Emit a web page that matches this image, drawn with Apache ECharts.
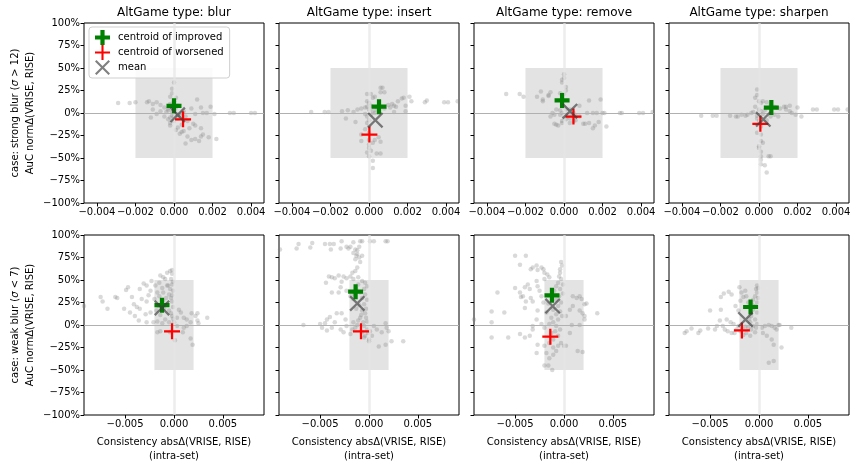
<!DOCTYPE html>
<html>
<head>
<meta charset="utf-8">
<script src="https://cdn.jsdelivr.net/npm/echarts@6/dist/echarts.min.js"></script>
<style>
  html, body { margin: 0; padding: 0; background: #fff; }
  #chart { width: 857px; height: 468px; }
</style>
</head>
<body>
<div id="chart"></div>
<script>
var altTypes = ["blur", "insert", "remove", "sharpen"];
var rowNames = ["case: strong blur ({i|σ} > 12)\nAuC normΔ(VRISE, RISE)",
                "case: weak blur ({i|σ} < 7)\nAuC normΔ(VRISE, RISE)"];
var xName = "Consistency absΔ(VRISE, RISE)\n(intra-set)";
var topTicks = [-0.004, -0.002, 0, 0.002, 0.004];
var bottomTicks = [-0.005, 0, 0.005];
var xLimits = [0.00467, 0.0092];

// scatter clouds, [x, y%]
var strongBlur = [[-0.0029,11],[-0.0023,11],[-0.0020,12],[-0.0014,12],[-0.0013,13],[-0.0011,10],[-0.0009,12],[-0.0007,9],[-0.0012,-5],[-0.0011,4],[-0.0005,6],[-0.0003,3],[-0.0007,2],[-0.0009,-1],[0.0000,34],[-0.0001,27],[-0.0001,22],[-0.0002,18],[0.0001,17],[0.0000,13],[-0.0002,10],[0.0002,8],[-0.0003,5],[-0.0004,1],[-0.0005,-4],[-0.0003,-7],[-0.0002,-11],[-0.0002,-14],[0.0000,-9],[0.0002,-6],[0.0004,0],[0.0005,2],[0.0003,-3],[0.0001,-1],[-0.0001,-3],[0.0006,-4],[0.0009,5],[0.0012,15],[0.0014,6],[0.0019,7],[0.0017,0],[0.0015,0],[0.0011,-1],[0.0021,-1],[0.0029,0],[0.0031,0],[0.0040,0],[0.0042,0],[0.0047,0],[0.0003,-23],[0.0004,-21],[0.0005,-20],[0.0007,-26],[0.0006,-34],[0.0009,-30],[0.0011,-29],[0.0014,-26],[0.0015,-24],[0.0018,-27],[0.0022,-29],[0.0013,-31],[0.0010,-12],[0.0011,-14],[0.0014,-17],[0.0008,-17],[0.0007,-9],[0.0004,-13],[-0.0002,-5],[0.0001,-19],[0.0002,-16],[0.0000,3],[0.0001,6],[-0.0001,1],[0.0002,-2],[0.0000,-4]];
var strongInsert = [[-0.0030,1],[-0.0023,1],[-0.0021,1],[-0.0014,2],[-0.0011,3],[-0.0008,1],[-0.0012,-6],[-0.0007,-10],[-0.0006,4],[-0.0004,5],[-0.0002,6],[-0.0001,21],[0.0001,21],[0.0002,17],[0.0003,18],[0.0006,28],[0.0007,28],[0.0008,23],[0.0006,23],[-0.0001,13],[0.0000,11],[0.0001,8],[-0.0001,7],[0.0000,4],[0.0002,2],[-0.0001,-4],[0.0000,-8],[-0.0001,-11],[0.0000,-15],[-0.0002,-18],[0.0000,-22],[-0.0004,-24],[-0.0004,-31],[0.0000,-30],[0.0002,-33],[0.0003,-30],[0.0005,-27],[0.0006,-32],[0.0000,-39],[0.0001,-42],[0.0004,-45],[0.0006,-45],[0.0000,-48],[0.0002,-53],[0.0002,-61],[-0.0001,-44],[0.0000,-35],[0.0010,9],[0.0012,10],[0.0013,8],[0.0014,7],[0.0015,13],[0.0017,16],[0.0018,17],[0.0019,8],[0.0021,18],[0.0022,13],[0.0019,2],[0.0013,1],[0.0029,12],[0.0030,14],[0.0039,12],[0.0041,12],[0.0046,13],[0.0011,6],[0.0008,5],[0.0006,7],[0.0004,4],[0.0003,0],[0.0001,-2],[-0.0002,-1]];
var strongRemove = [[-0.0030,21],[-0.0023,21],[-0.0021,18],[-0.0014,18],[-0.0012,24],[-0.0011,15],[-0.0011,13],[-0.0008,19],[-0.0008,20],[-0.0007,23],[-0.0004,4],[-0.0005,-2],[-0.0006,0],[-0.0007,-4],[0.0000,43],[0.0000,39],[-0.0001,37],[-0.0001,34],[0.0001,29],[0.0001,25],[0.0000,21],[-0.0002,22],[-0.0001,9],[0.0000,7],[0.0001,4],[-0.0001,0],[-0.0002,-2],[0.0000,-5],[0.0001,-7],[-0.0001,-11],[-0.0004,-13],[-0.0005,-12],[-0.0003,-14],[-0.0001,-9],[0.0001,-2],[0.0003,-6],[0.0003,4],[0.0005,0],[0.0006,-3],[0.0008,-4],[0.0010,-12],[0.0011,-12],[0.0013,-11],[0.0015,-17],[0.0016,-14],[0.0018,-10],[0.0022,-15],[0.0012,0],[0.0015,0],[0.0017,0],[0.0020,0],[0.0021,0],[0.0029,0],[0.0030,0],[0.0039,0],[0.0041,0],[0.0046,1],[0.0013,14],[0.0019,15],[0.0008,8],[0.0006,-8],[0.0003,-11],[0.0005,-9],[0.0002,-4],[0.0004,-1],[-0.0002,3]];
var strongSharpen = [[-0.0030,-3],[-0.0024,-3],[-0.0022,-3],[-0.0015,-3],[-0.0012,-4],[-0.0011,-4],[-0.0009,-2],[-0.0007,-3],[-0.0006,-2],[-0.0004,0],[-0.0003,1],[-0.0001,26],[-0.0001,20],[-0.0002,17],[0.0000,13],[0.0001,11],[-0.0002,7],[0.0000,4],[0.0001,2],[-0.0001,-6],[0.0000,-9],[0.0001,-15],[-0.0001,-22],[0.0001,-24],[0.0001,-31],[0.0000,-37],[0.0000,-39],[0.0001,-43],[0.0001,-48],[0.0001,-52],[0.0001,-57],[0.0003,-58],[0.0004,-66],[0.0005,-48],[0.0006,-48],[0.0002,-33],[0.0002,13],[0.0004,12],[0.0006,9],[0.0008,7],[0.0009,6],[0.0011,5],[0.0013,7],[0.0014,7],[0.0016,8],[0.0014,4],[0.0016,2],[0.0017,0],[0.0019,-2],[0.0020,6],[0.0022,-4],[0.0010,-4],[0.0008,-2],[0.0006,-4],[0.0004,-8],[0.0028,4],[0.0030,4],[0.0039,4],[0.0041,4],[0.0046,4],[0.0002,-1],[-0.0001,-3],[0.0003,3]];
var weakBlur = [[-0.0092,21],[-0.0075,31],[-0.0073,26],[-0.0068,18],[-0.0060,31],[-0.0058,30],[-0.0049,39],[-0.0051,18],[-0.0047,42],[-0.0043,31],[-0.0041,23],[-0.0038,20],[-0.0045,14],[-0.0040,10],[-0.0035,40],[-0.0033,29],[-0.0031,46],[-0.0028,44],[-0.0035,18],[-0.0029,12],[-0.0036,5],[-0.0028,26],[-0.0024,38],[-0.0023,49],[-0.0019,44],[-0.0017,36],[-0.0028,3],[-0.0021,3],[-0.0024,14],[-0.0014,55],[-0.0011,53],[-0.0009,51],[-0.0007,58],[-0.0004,60],[-0.0002,61],[-0.0002,57],[-0.0003,51],[-0.0002,45],[-0.0004,40],[-0.0005,34],[-0.0003,30],[-0.0002,26],[-0.0007,23],[-0.0005,16],[-0.0002,10],[-0.0009,6],[-0.0014,11],[-0.0016,21],[-0.0011,27],[-0.0011,36],[-0.0015,32],[-0.0007,44],[-0.0017,4],[-0.0012,2],[-0.0005,3],[0.0000,3],[0.0003,-1],[-0.0001,48],[-0.0001,38],[-0.0002,33],[-0.0001,20],[-0.0003,13],[-0.0001,7],[-0.0006,44],[-0.0008,30],[-0.0010,18],[-0.0012,41],[-0.0020,29],[-0.0018,16],[-0.0026,33],[-0.0015,47],[-0.0017,-8],[-0.0014,-7],[-0.0004,-8],[0.0001,-17],[0.0009,-8],[0.0013,6],[0.0017,3],[0.0022,10],[0.0024,13],[0.0024,5],[0.0018,13],[0.0013,-1],[0.0010,8],[0.0007,14],[0.0003,8],[0.0005,17],[0.0017,-15],[0.0019,-22],[0.0034,8],[0.0010,-3],[0.0025,2]];
var weakInsert = [[-0.0091,84],[-0.0072,90],[-0.0074,85],[-0.0060,86],[-0.0058,91],[-0.0045,90],[-0.0040,90],[-0.0036,90],[-0.0028,93],[-0.0039,84],[-0.0029,85],[-0.0023,87],[-0.0019,87],[-0.0016,92],[-0.0014,84],[-0.0012,83],[-0.0009,93],[-0.0007,93],[0.0001,93],[0.0005,93],[0.0017,93],[0.0019,93],[-0.0012,79],[-0.0010,75],[-0.0014,73],[-0.0009,70],[-0.0012,64],[-0.0014,60],[-0.0017,58],[-0.0021,85],[-0.0016,80],[-0.0013,77],[-0.0007,77],[-0.0010,87],[-0.0041,54],[-0.0038,53],[-0.0035,52],[-0.0031,55],[-0.0026,54],[-0.0023,52],[-0.0019,54],[-0.0016,51],[-0.0011,53],[-0.0007,49],[-0.0004,47],[-0.0002,43],[-0.0005,40],[-0.0009,36],[-0.0004,34],[-0.0007,30],[-0.0002,28],[-0.0005,23],[-0.0003,18],[-0.0007,16],[-0.0004,13],[-0.0009,8],[-0.0002,4],[-0.0006,3],[-0.0005,-1],[-0.0002,-5],[-0.0007,-8],[-0.0004,-12],[0.0000,-16],[-0.0005,-14],[-0.0044,47],[-0.0038,36],[-0.0029,42],[-0.0028,48],[-0.0031,36],[-0.0023,38],[-0.0019,32],[-0.0016,29],[-0.0033,13],[-0.0028,13],[-0.0040,9],[-0.0043,6],[-0.0045,2],[-0.0050,1],[-0.0067,0],[-0.0048,-3],[-0.0043,-6],[-0.0038,-3],[-0.0035,3],[-0.0029,-5],[-0.0024,6],[-0.0023,-1],[-0.0017,-5],[-0.0026,-8],[-0.0019,-10],[-0.0016,3],[-0.0012,0],[0.0001,-7],[0.0003,-12],[0.0000,-18],[0.0010,-24],[0.0017,-22],[0.0017,2],[0.0018,-3],[0.0020,-7],[0.0023,-18],[0.0035,-18],[0.0008,-5],[0.0013,-8],[0.0005,-1],[-0.0011,45],[-0.0013,40],[-0.0015,34],[-0.0010,22],[-0.0013,18],[-0.0008,11],[-0.0011,5],[-0.0014,-3],[-0.0003,8],[-0.0001,-9]];
var weakRemove = [[-0.0092,6],[-0.0074,3],[-0.0074,-14],[-0.0074,15],[-0.0068,36],[-0.0061,14],[-0.0057,-14],[-0.0050,77],[-0.0045,67],[-0.0039,77],[-0.0034,62],[-0.0032,64],[-0.0028,66],[-0.0027,61],[-0.0023,64],[-0.0021,62],[-0.0020,58],[-0.0050,41],[-0.0045,36],[-0.0044,31],[-0.0042,32],[-0.0040,42],[-0.0037,45],[-0.0035,40],[-0.0034,30],[-0.0032,26],[-0.0039,26],[-0.0040,19],[-0.0028,49],[-0.0027,43],[-0.0025,38],[-0.0023,32],[-0.0020,51],[-0.0017,56],[-0.0015,53],[-0.0021,25],[-0.0027,16],[-0.0028,6],[-0.0032,-5],[-0.0035,-12],[-0.0040,-14],[-0.0045,-10],[-0.0032,-1],[-0.0023,1],[-0.0020,-3],[-0.0028,-31],[-0.0027,-22],[-0.0020,-23],[-0.0018,-31],[-0.0020,-45],[-0.0016,-45],[-0.0012,-50],[-0.0015,-37],[-0.0011,-33],[-0.0008,-29],[-0.0006,-23],[-0.0003,-20],[0.0000,-23],[0.0002,-23],[-0.0015,-20],[-0.0011,-25],[-0.0003,70],[-0.0002,66],[-0.0004,62],[-0.0004,58],[-0.0005,54],[-0.0003,51],[-0.0006,47],[-0.0008,43],[-0.0004,40],[-0.0010,38],[-0.0005,32],[-0.0008,28],[-0.0003,25],[-0.0006,21],[-0.0011,17],[-0.0004,15],[-0.0008,12],[-0.0013,8],[-0.0006,6],[-0.0011,3],[-0.0015,1],[-0.0008,-1],[-0.0004,-5],[-0.0009,-7],[-0.0013,-9],[-0.0006,-12],[-0.0011,-16],[-0.0001,35],[-0.0001,45],[-0.0002,10],[-0.0016,24],[-0.0018,14],[0.0009,32],[0.0013,30],[0.0016,32],[0.0018,29],[0.0016,16],[0.0019,13],[0.0021,23],[0.0023,24],[0.0021,6],[0.0021,10],[0.0016,0],[0.0008,0],[0.0034,13],[0.0006,-9],[0.0014,-29],[0.0019,-30],[0.0002,10],[0.0006,17],[0.0009,21]];
var weakSharpen = [[-0.0093,-9],[-0.0076,-9],[-0.0074,-7],[-0.0069,-4],[-0.0062,-9],[-0.0060,-6],[-0.0052,-4],[-0.0050,16],[-0.0045,-5],[-0.0043,-1],[-0.0040,5],[-0.0039,17],[-0.0039,31],[-0.0036,35],[-0.0031,37],[-0.0028,34],[-0.0037,-1],[-0.0035,-5],[-0.0032,-7],[-0.0028,-9],[-0.0025,-9],[-0.0023,-5],[-0.0021,-1],[-0.0019,-7],[-0.0026,1],[-0.0029,3],[-0.0033,6],[-0.0024,21],[-0.0021,16],[-0.0020,42],[-0.0018,36],[-0.0016,31],[-0.0019,27],[-0.0014,38],[-0.0013,32],[-0.0011,25],[-0.0002,44],[-0.0003,40],[-0.0002,36],[-0.0004,32],[-0.0006,28],[-0.0002,25],[-0.0004,21],[-0.0006,17],[-0.0002,14],[-0.0008,10],[-0.0004,6],[-0.0009,3],[-0.0002,1],[-0.0006,-1],[-0.0011,-3],[-0.0008,-5],[-0.0004,-8],[-0.0013,-9],[-0.0016,-11],[-0.0009,-12],[-0.0001,41],[-0.0001,30],[-0.0007,23],[-0.0003,-3],[-0.0010,7],[-0.0014,-2],[-0.0017,-4],[0.0003,-3],[0.0006,-1],[0.0010,0],[0.0013,-1],[0.0016,-3],[0.0020,0],[0.0021,0],[0.0018,-5],[0.0033,-3],[0.0013,-16],[0.0015,-22],[0.0023,-25],[0.0015,-40],[0.0010,-42],[0.0004,-9],[0.0008,-12]];

// centroids per panel (blur, insert, remove, sharpen)
var improvedStrong = [[0.0000,8],[0.00052,7],[-0.0001,14],[0.00064,6]];
var worsenedStrong = [[0.00047,-7],[0.00002,-24],[0.00049,-4],[0.00007,-12]];
var meanStrong = [[0.00019,-2],[0.00033,-8],[0.00031,2],[0.00022,-7]];
var improvedWeak = [[-0.00123,22],[-0.00137,37],[-0.00123,33],[-0.00086,20]];
var worsenedWeak = [[-0.0002,-7],[-0.00082,-7],[-0.0014,-13],[-0.00175,-6]];
var meanWeak = [[-0.00123,19],[-0.0012,24],[-0.00116,21],[-0.00138,6]];

var clouds = [[strongBlur, strongInsert, strongRemove, strongSharpen],
              [weakBlur, weakInsert, weakRemove, weakSharpen]];
var improved = [improvedStrong, improvedWeak];
var worsened = [worsenedStrong, worsenedWeak];
var means = [meanStrong, meanWeak];

var FONT = "DejaVu Sans";
var plusThick = "path://M36,0H64V36H100V64H64V100H36V64H0V36H36Z";
var plusThin = "path://M43,0H57V43H100V57H57V100H43V57H0V43H43Z";
var cross = "path://M0,10L10,0L50,40L90,0L100,10L60,50L100,90L90,100L50,60L10,100L0,90L40,50Z";
var meanColor = "rgba(60,60,60,0.65)";

function fmtX(v) {
  var s = Math.abs(v).toFixed(3);
  return (v < -1e-9 ? "\u2212" : "") + s;
}
function fmtY(v) {
  return (v < 0 ? "\u2212" : "") + Math.abs(v) + "%";
}

var panelLeft = [84, 279, 474, 669];
var panelTop = [23, 235];
var grids = [], xAxes = [], yAxes = [], series = [], graphics = [];

for (var r = 0; r < 2; r++) {
  for (var c = 0; c < 4; c++) {
    var g = r * 4 + c;
    var ticks = r === 0 ? topTicks : bottomTicks;
    grids.push({
      left: panelLeft[c], top: panelTop[r], width: 180, height: 180,
      show: true, borderColor: "#000", borderWidth: 1,
      backgroundColor: "transparent", outerBoundsMode: "none"
    });
    xAxes.push({
      gridIndex: g, type: "value",
      min: -xLimits[r], max: xLimits[r],
      axisLine: { show: false, onZero: false },
      axisTick: { show: true, length: 3.5, customValues: ticks, lineStyle: { color: "#000" } },
      axisLabel: { customValues: ticks, formatter: fmtX, fontSize: 10, fontFamily: FONT, color: "#000", margin: 4 },
      splitLine: { show: false },
      name: r === 1 ? xName : "",
      nameLocation: "middle", nameGap: 20,
      nameTextStyle: { fontSize: 10, fontFamily: FONT, color: "#000", lineHeight: 14 }
    });
    yAxes.push({
      gridIndex: g, type: "value",
      min: -100, max: 100, interval: 25,
      axisLine: { show: false, onZero: false },
      axisTick: { show: true, length: 3.5, lineStyle: { color: "#000" } },
      axisLabel: { show: c === 0, formatter: fmtY, fontSize: 10, fontFamily: FONT, color: "#000", margin: 4 },
      splitLine: { show: false },
      name: c === 0 ? rowNames[r] : "",
      nameLocation: "middle", nameRotate: 90, nameGap: 46,
      nameTextStyle: {
        fontSize: 10, fontFamily: FONT, color: "#000", lineHeight: 15,
        rich: { i: { fontStyle: "italic", fontSize: 10, fontFamily: FONT, color: "#000", lineHeight: 15 } }
      }
    });

    // grey box and zero lines
    series.push({
      type: "scatter", xAxisIndex: g, yAxisIndex: g, data: [], silent: true, z: 1,
      markArea: {
        silent: true,
        itemStyle: { color: "rgba(128,128,128,0.22)" },
        data: [[{ xAxis: -0.002, yAxis: -50 }, { xAxis: 0.002, yAxis: 50 }]]
      }
    });
    series.push({
      type: "scatter", xAxisIndex: g, yAxisIndex: g, data: [], silent: true, z: 2,
      markLine: {
        silent: true, symbol: ["none", "none"], label: { show: false },
        animation: false,
        data: [
          { xAxis: 0, lineStyle: { color: "rgba(230,230,230,0.7)", width: 2.5, type: "solid" } },
          { yAxis: 0, lineStyle: { color: "#b0b0b0", width: 1, type: "solid" } }
        ]
      }
    });
    series.push({
      type: "scatter", xAxisIndex: g, yAxisIndex: g, silent: true, z: 3,
      symbol: "circle", symbolSize: 4.5,
      itemStyle: { color: "rgba(128,128,128,0.3)", opacity: 1 },
      data: clouds[r][c]
    });
    series.push({
      name: "centroid of improved", type: "scatter", xAxisIndex: g, yAxisIndex: g, z: 5,
      symbol: plusThick, symbolSize: 15, itemStyle: { color: "#008000", opacity: 1 },
      data: [improved[r][c]]
    });
    series.push({
      name: "centroid of worsened", type: "scatter", xAxisIndex: g, yAxisIndex: g, z: 5,
      symbol: plusThin, symbolSize: 16, itemStyle: { color: "#ff0000", opacity: 1 },
      data: [worsened[r][c]]
    });
    series.push({
      name: "mean", type: "scatter", xAxisIndex: g, yAxisIndex: g, z: 6,
      symbol: cross, symbolSize: 16, itemStyle: { color: meanColor, opacity: 1 },
      data: [means[r][c]]
    });

    if (r === 0) {
      graphics.push({
        type: "text", x: panelLeft[c] + 90, y: 13,
        style: {
          text: "AltGame type: " + altTypes[c], fontSize: 12, fontFamily: FONT,
          fill: "#000", align: "center", verticalAlign: "middle"
        }
      });
    }
  }
}

var chart = echarts.init(document.getElementById("chart"), null, { renderer: "canvas" });
chart.setOption({
  animation: false,
  backgroundColor: "#fff",
  grid: grids,
  xAxis: xAxes,
  yAxis: yAxes,
  graphic: graphics,
  legend: {
    orient: "vertical", left: 89, top: 27,
    padding: [3, 6, 3, 6],
    itemWidth: 21, itemHeight: 15, itemGap: 0,
    borderColor: "#cfcfcf", borderWidth: 1, borderRadius: 3,
    backgroundColor: "rgba(255,255,255,0.85)",
    textStyle: { fontSize: 10, fontFamily: FONT, color: "#000" },
    selectedMode: false,
    data: [
      { name: "centroid of improved", icon: plusThick },
      { name: "centroid of worsened", icon: plusThin },
      { name: "mean", icon: cross }
    ]
  },
  series: series
});
</script>
</body>
</html>
